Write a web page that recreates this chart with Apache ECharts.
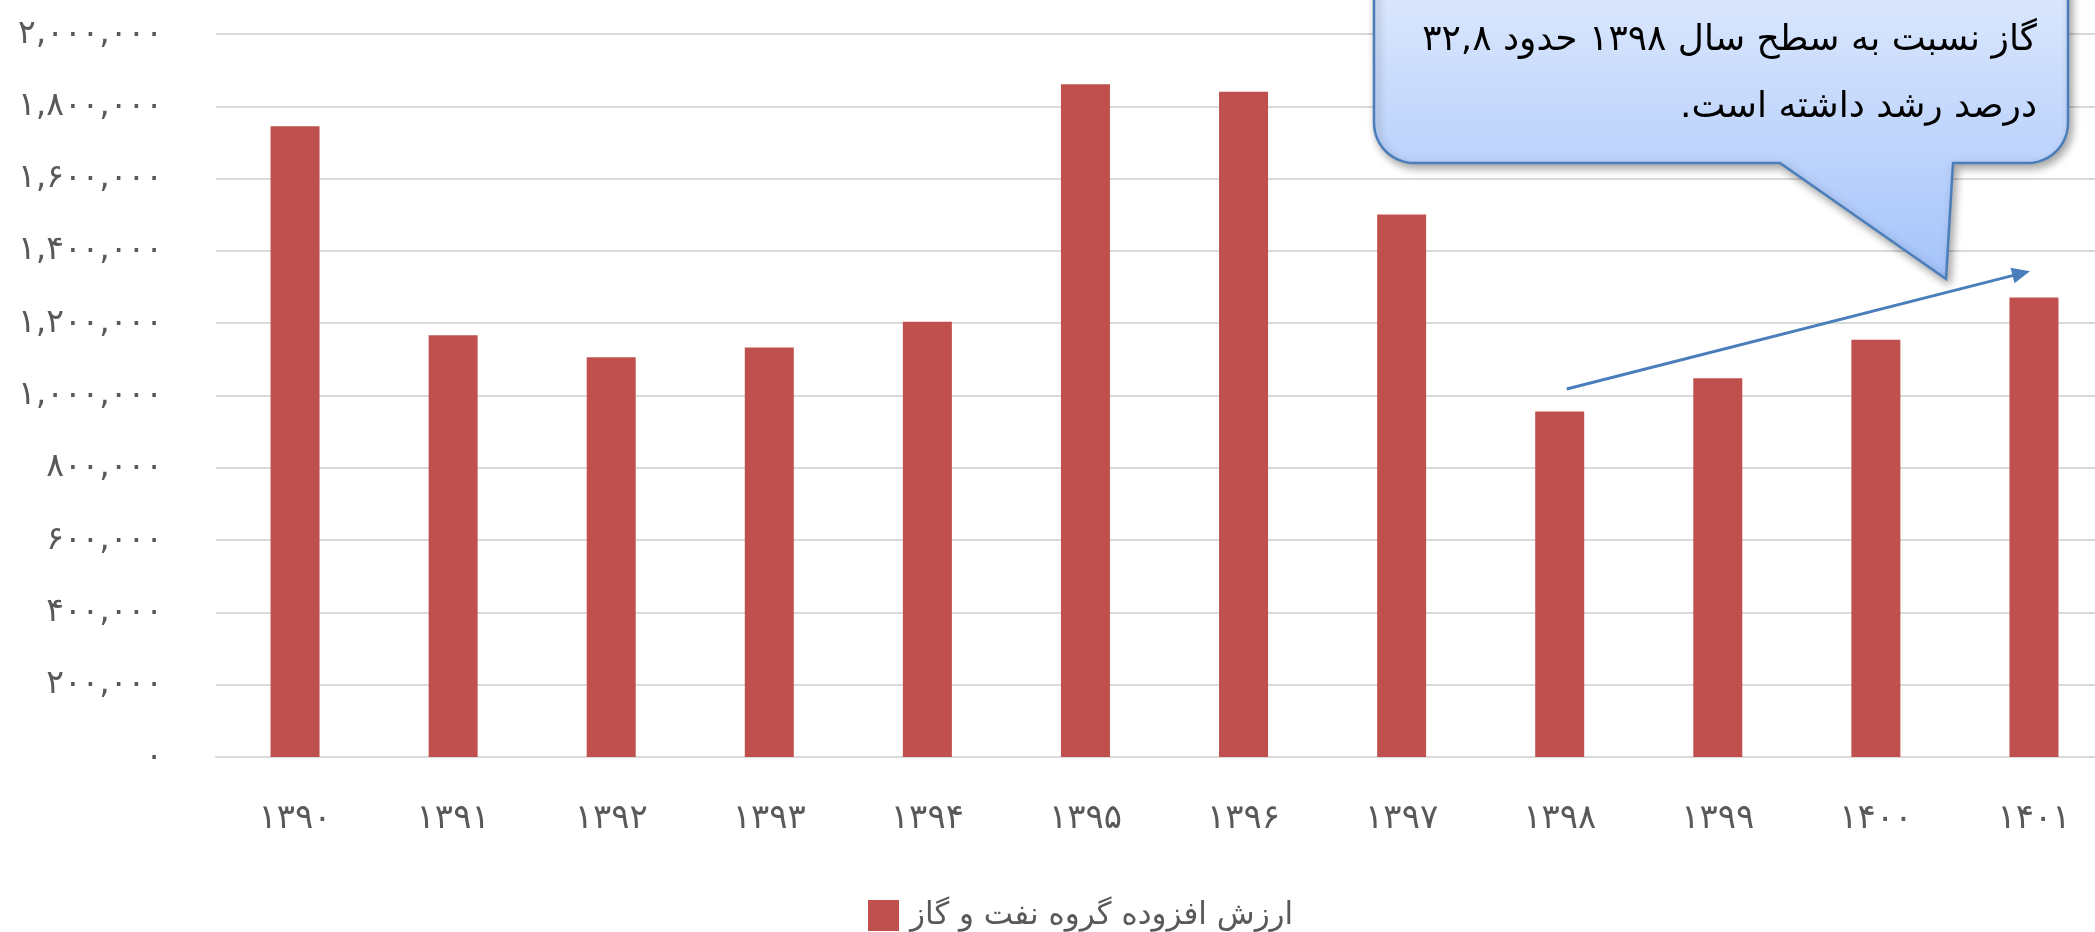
<!DOCTYPE html>
<html>
<head>
<meta charset="utf-8">
<script src="https://cdn.jsdelivr.net/npm/echarts@6/dist/echarts.min.js"></script>
<style>
html,body{margin:0;padding:0;background:#fff;}
#chart{width:2095px;height:932px;}
</style>
</head>
<body>
<div id="chart"></div>
<script>
const categories = ['۱۳۹۰','۱۳۹۱','۱۳۹۲','۱۳۹۳','۱۳۹۴','۱۳۹۵','۱۳۹۶','۱۳۹۷','۱۳۹۸','۱۳۹۹','۱۴۰۰','۱۴۰۱'];
const values = [1745000, 1167000, 1106000, 1133000, 1204000, 1861000, 1840000, 1501000, 956000, 1048000, 1154000, 1271000];
const yTickLabels = ['۰','۲۰۰,۰۰۰','۴۰۰,۰۰۰','۶۰۰,۰۰۰','۸۰۰,۰۰۰','۱,۰۰۰,۰۰۰','۱,۲۰۰,۰۰۰','۱,۴۰۰,۰۰۰','۱,۶۰۰,۰۰۰','۱,۸۰۰,۰۰۰','۲,۰۰۰,۰۰۰'];
const seriesName = 'ارزش افزوده گروه نفت و گاز';
const calloutLines = ['در سال ۱۴۰۱ ارزش افزوده گروه نفت و', 'گاز نسبت به سطح سال ۱۳۹۸ حدود ۳۲,۸', 'درصد رشد داشته است.\u200F'];
const arrowFrom = {cat: 8, value: 1018000};
const arrowTo = {cat: 11, value: 1344000};

const FONT = '"DejaVu Sans", "Noto Sans", sans-serif';
const chart = echarts.init(document.getElementById('chart'), null, {renderer: 'canvas'});

chart.setOption({
  animation: false,
  backgroundColor: '#ffffff',
  grid: {left: 216, top: 34, bottom: 175, width: 1897, containLabel: false, outerBoundsMode: 'none'},
  legend: {
    left: 868, top: 900, padding: 0,
    itemWidth: 31, itemHeight: 31, itemGap: 20,
    icon: 'rect',
    textStyle: {fontFamily: FONT, fontSize: 31, color: '#595959', padding: [0, 0, 0, 6]},
    data: [seriesName]
  },
  xAxis: {
    type: 'category',
    data: categories,
    axisTick: {show: false},
    axisLine: {lineStyle: {color: '#d9d9d9', width: 2}},
    axisLabel: {fontFamily: FONT, fontSize: 34, color: '#595959', margin: 45}
  },
  yAxis: {
    type: 'value',
    min: 0, max: 2000000, interval: 200000,
    axisLine: {show: false},
    axisTick: {show: false},
    splitLine: {lineStyle: {color: '#d9d9d9', width: 2}},
    axisLabel: {
      fontFamily: FONT, fontSize: 33, color: '#595959', margin: 53,
      formatter: function (v) { return yTickLabels[Math.round(v / 200000)]; }
    }
  },
  series: [{
    name: seriesName,
    type: 'bar',
    data: values,
    barWidth: 49,
    itemStyle: {color: '#c0504d'}
  }]
});

// Annotations
const p0 = chart.convertToPixel({gridIndex: 0}, [arrowFrom.cat, arrowFrom.value]);
const p1 = chart.convertToPixel({gridIndex: 0}, [arrowTo.cat, arrowTo.value]);
const sx = p0[0] + 7, sy = p0[1];
const tx = p1[0] - 4, ty = p1[1];
const dx = tx - sx, dy = ty - sy, L = Math.sqrt(dx*dx + dy*dy);
const ux = dx / L, uy = dy / L;
const headLen = 18, headHalf = 8;
const bx = tx - ux * headLen, by = ty - uy * headLen;
const nx = -uy, ny = ux;

// callout geometry (rounded rectangle with a pointer), as polygon points
const cl = 1374, cr = 2068, cb = 163, ct = -160, r = 40;
const pl = 1780, pr = 1953, tipX = 1946, tipY = 279;
function arc(cx, cy, a0, a1) {
  const pts = [];
  const n = 12;
  for (let i = 0; i <= n; i++) {
    const a = a0 + (a1 - a0) * i / n;
    pts.push([cx + r * Math.cos(a), cy + r * Math.sin(a)]);
  }
  return pts;
}
const PI = Math.PI;
let pts = [];
pts = pts.concat(arc(cl + r, ct + r, PI, 1.5 * PI));
pts = pts.concat(arc(cr - r, ct + r, 1.5 * PI, 2 * PI));
pts = pts.concat(arc(cr - r, cb - r, 0, 0.5 * PI));
pts.push([pr, cb], [tipX, tipY], [pl, cb]);
pts = pts.concat(arc(cl + r, cb - r, 0.5 * PI, PI));

chart.setOption({
  graphic: [
    {
      type: 'polygon',
      shape: {points: pts},
      z: 100,
      style: {
        fill: new echarts.graphic.LinearGradient(0, 0, 0, 279, [
          {offset: 0, color: '#d9e6fd'},
          {offset: 1, color: '#a5c4fb'}
        ], true),
        stroke: '#4a7ebb',
        lineWidth: 2.5,
        shadowBlur: 8,
        shadowOffsetX: 3,
        shadowOffsetY: 4,
        shadowColor: 'rgba(0,0,0,0.35)'
      }
    },
    {
      type: 'text', z: 101,
      style: {text: calloutLines[0], x: 2037, y: -18, align: 'right', verticalAlign: 'middle',
        font: '36px ' + FONT, fill: '#000000'}
    },
    {
      type: 'text', z: 101,
      style: {text: calloutLines[1], x: 2037, y: 41, align: 'right', verticalAlign: 'middle',
        font: '36px ' + FONT, fill: '#000000'}
    },
    {
      type: 'text', z: 101,
      style: {text: calloutLines[2], x: 2037, y: 108, align: 'right', verticalAlign: 'middle',
        font: '36px ' + FONT, fill: '#000000'}
    },
    {
      type: 'line', z: 102,
      shape: {x1: sx, y1: sy, x2: bx + ux * 2, y2: by + uy * 2},
      style: {stroke: '#4a7ebb', lineWidth: 3}
    },
    {
      type: 'polygon', z: 102,
      shape: {points: [[tx, ty], [bx + nx * headHalf, by + ny * headHalf], [bx - nx * headHalf, by - ny * headHalf]]},
      style: {fill: '#4a7ebb'}
    }
  ]
});
</script>
</body>
</html>
